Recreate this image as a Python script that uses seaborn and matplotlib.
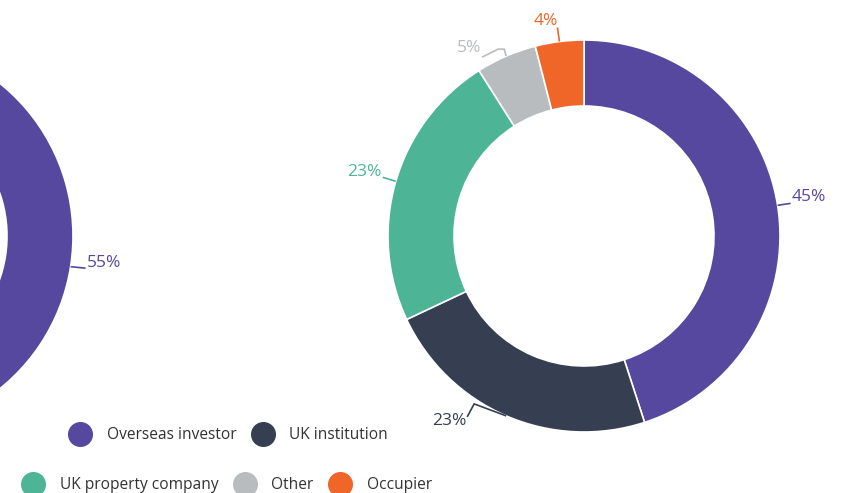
import matplotlib
matplotlib.use("Agg")
import matplotlib.pyplot as plt
from matplotlib.lines import Line2D
import numpy as np
import seaborn as sns

# data
categories = ["Overseas investor", "UK institution", "UK property company", "Other", "Occupier"]
left_values = [55, 20, 14, 7, 4]     # only the 55% share is visible in the crop
right_values = [45, 23, 23, 5, 4]
colors_hex = ["#56489e", "#353f51", "#4db595", "#b9bcbf", "#ef6628"]

sns.set_theme(style="white")
plt.rcParams["font.family"] = ["Open Sans", "DejaVu Sans"]
palette = sns.color_palette(colors_hex)

W, H = 843, 493
fig = plt.figure(figsize=(W / 100, H / 100), dpi=100)
ax = fig.add_axes([0, 0, 1, 1])

R, RING = 196, 66


def donut(cx, cy, values, paths):
    # cx, cy given in picture pixels (y down)
    wedges, _ = ax.pie(values, colors=palette, radius=R, center=(cx, H - cy),
                       startangle=90, counterclock=False, frame=True,
                       wedgeprops=dict(width=RING, edgecolor="white", linewidth=1.2))
    total = sum(values)
    for w, v, col in zip(wedges, values, palette):
        key = round(100 * v / total)
        spec = paths.get((key, tuple(col)))
        if spec is None:
            continue  # label lies outside the cropped picture
        mid = np.deg2rad((w.theta1 + w.theta2) / 2)
        ex, ey = cx + R * np.cos(mid), cy - R * np.sin(mid)
        pts, (tx, ty), ha = spec
        xs = [ex] + [ex + p[0] for p in pts]
        ys = [H - ey] + [H - (ey + p[1]) for p in pts]
        ax.plot(xs, ys, color=col, lw=1.2, solid_capstyle="butt")
        ax.text(ex + tx, H - (ey + ty), f"{key}%", color=col, fontsize=12.5,
                ha=ha, va="center")


c = lambda i: tuple(palette[i])
left_paths = {(55, c(0)): ([(15, 1.5)], (16, -3.5), "left")}
right_paths = {
    (45, c(0)): ([(13, -2)], (14, -8), "left"),
    (23, c(1)): ([(-32, -12), (-39, 1)], (-40, 5), "right"),
    (23, c(2)): ([(-13, -4)], (-14, -9), "right"),
    (5, c(3)): ([(-2, -7), (-8, -7), (-24, 1)], (-25, -8), "right"),
    (4, c(4)): ([(-2, -14)], (-1, -21), "right"),
}

donut(-123, 236, left_values, left_paths)
donut(584, 236, right_values, right_paths)

ax.set_xlim(0, W)
ax.set_ylim(0, H)
ax.set_aspect("equal")
ax.axis("off")

handles = [Line2D([], [], marker="o", ls="", markersize=17, color=col, label=cat)
           for cat, col in zip(categories, palette)]
leg_kw = dict(frameon=False, fontsize=11.2, handlelength=1.55, handletextpad=0.95,
              columnspacing=0.9, borderpad=0, borderaxespad=0, labelcolor="#333333",
              loc="center left")
fig.legend(handles=handles[:2], ncol=2, bbox_to_anchor=(68 / W, 1 - 435 / H), **leg_kw)
fig.legend(handles=handles[2:], ncol=3, bbox_to_anchor=(21 / W, 1 - 485 / H), **leg_kw)

fig.savefig("out.png", dpi=100)
